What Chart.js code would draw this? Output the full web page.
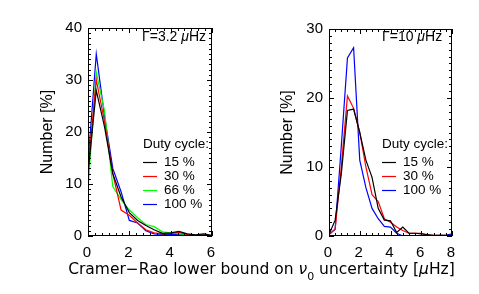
<!DOCTYPE html>
<html>
  <head>
    <title>Duty cycle histograms</title>
    <script src="https://cdn.jsdelivr.net/npm/chart.js"></script>
    <style>
      body { margin: 0; background: #fff; }
      #wrap { position: relative; width: 479px; height: 294px; overflow: hidden; }
      canvas { position: absolute; left: 0; top: 0; }
      #xtitle {
        position: absolute; left: 0; width: 523px; top: 260px;
        text-align: center; font: 15.5px "DejaVu Sans"; color: #000; white-space: nowrap;
      }
      #xtitle sub { font-size: 11px; vertical-align: -6px; }
    </style>
  </head>
  <body>
    <div id="wrap">
      <canvas id="left-chart" width="479" height="294"></canvas>
      <canvas id="right-chart" width="479" height="294"></canvas>
      <div id="xtitle">Cramer&minus;Rao lower bound on <i>&nu;</i><sub>0</sub> uncertainty [<i>&mu;</i>Hz]</div>
    </div>

    <script>
      // left panel, Gamma = 3.2 uHz
      const xLeft = [0, 0.4, 0.8, 1.2, 1.6, 2.0, 2.4, 2.8, 3.2, 3.6, 4.0, 4.4, 4.8, 5.2, 5.6, 6.0];
      const duty15Left = [12, 28, 21, 12, 7.5, 4.5, 3, 2, 1.2, 0.5, 0.6, 0.9, 0.4, 0.2, 0.4, 0.1];
      const duty30Left = [13, 30, 22, 12, 5, 4, 2.5, 1.2, 0.6, 0.4, 0.5, 0.7, 0.3, 0.1, 0.2, 0];
      const duty66Left = [9, 31.5, 24, 9.5, 7, 5, 3.5, 2.2, 1.8, 0.8, 0.6, 0.4, 0.3, 0.2, 0.1, 0];
      const duty100Left = [14, 35, 23, 13, 8.5, 3, 2.5, 1, 0.4, 0.3, 0.3, 0.3, 0.2, 0.1, 0.1, 0];

      // right panel, Gamma = 10 uHz
      const xRight = [0, 0.4, 0.8, 1.2, 1.6, 2.0, 2.4, 2.8, 3.2, 3.6, 4.0, 4.4, 4.8, 5.2, 5.6, 6.0, 6.4, 6.8, 7.2, 7.6, 8.0];
      const duty15Right = [0.2, 2.3, 9, 18.2, 18.4, 15, 11, 8.5, 4, 2.3, 2.2, 0.5, 1.3, 0.4, 0.4, 0.3, 0.2, 0.1, 0.1, 0.1, 0.1];
      const duty30Right = [0.2, 1, 10, 20.3, 18.5, 15, 10, 6, 5, 2.5, 2, 1.3, 0.8, 0.4, 0.4, 0.4, 0.1, 0.1, 0.1, 0, 0];
      const duty100Right = [0.2, 1, 13, 25.8, 27.3, 11, 7, 4, 2.5, 1.4, 1.3, 0.4, 0, 0, 0, 0, 0, 0, 0.1, 0.1, 0.3];

      const legendLabels = ["15 %", "30 %", "66 %", "100 %"];
      const colors = { "15 %": "#000000", "30 %": "#ff0000", "66 %": "#00ff00", "100 %": "#0000ff" };

      function pts(xs, ys) {
        return xs.map((x, i) => ({ x: x, y: ys[i] }));
      }

      // frame, inward ticks, y title, gamma text and legend
      const panelPlugin = {
        id: "panel",
        afterDraw(chart) {
          const o = chart.options.plugins.panel;
          const ctx = chart.ctx;
          const a = chart.chartArea;
          const xs = chart.scales.x, ys = chart.scales.y;
          ctx.save();
          ctx.strokeStyle = "#000";
          ctx.lineWidth = 1;
          ctx.strokeRect(a.left + 0.5, a.top + 0.5, a.right - a.left - 1, a.bottom - a.top - 1);

          ctx.beginPath();
          for (let v = xs.min; v <= xs.max + 1e-6; v += o.minorX) {
            const major = Math.abs(v / o.majorX - Math.round(v / o.majorX)) < 1e-3;
            const len = major ? 5 : 3;
            const p = Math.round(xs.getPixelForValue(v)) + 0.5;
            ctx.moveTo(p, a.bottom); ctx.lineTo(p, a.bottom - len);
            ctx.moveTo(p, a.top); ctx.lineTo(p, a.top + len);
          }
          for (let v = ys.min; v <= ys.max + 1e-6; v += o.minorY) {
            const major = Math.abs(v / o.majorY - Math.round(v / o.majorY)) < 1e-3;
            const len = major ? 5 : 3;
            const p = Math.round(ys.getPixelForValue(v)) + 0.5;
            ctx.moveTo(a.left, p); ctx.lineTo(a.left + len, p);
            ctx.moveTo(a.right, p); ctx.lineTo(a.right - len, p);
          }
          ctx.stroke();

          ctx.fillStyle = "#000";
          // y title
          ctx.save();
          ctx.translate(o.titleX, (a.top + a.bottom) / 2);
          ctx.rotate(-Math.PI / 2);
          ctx.font = "16px 'Liberation Sans'";
          ctx.textAlign = "center";
          ctx.textBaseline = "middle";
          ctx.fillText("Number [%]", 0, 0);
          ctx.restore();

          // gamma label
          ctx.font = "14px 'Liberation Sans'";
          ctx.textBaseline = "middle";
          ctx.textAlign = "left";
          let tx = o.gammaX;
          const gy = 37;
          const g1 = "\u0393=" + o.gamma + " ";
          ctx.fillText(g1, tx, gy);
          tx += ctx.measureText(g1).width;
          ctx.font = "italic 14px 'Liberation Sans'";
          ctx.fillText("\u03bc", tx, gy);
          tx += ctx.measureText("\u03bc").width;
          ctx.font = "14px 'Liberation Sans'";
          ctx.fillText("Hz", tx, gy);

          // legend
          ctx.font = "13.5px 'Liberation Sans'";
          ctx.fillText("Duty cycle:", o.legendX, 144);
          chart.data.datasets.forEach((ds, i) => {
            const y = 162 + i * 14;
            ctx.strokeStyle = ds.borderColor;
            ctx.lineWidth = 1.2;
            ctx.beginPath();
            ctx.moveTo(o.legendX, y + 0.5);
            ctx.lineTo(o.legendX + 14, y + 0.5);
            ctx.stroke();
            ctx.fillStyle = "#000";
            ctx.fillText(ds.label, o.legendX + 21, y);
          });
          ctx.restore();
        },
      };

      function makeChart(id, xs, series, opts) {
        const ctx = document.getElementById(id).getContext("2d");
        return new Chart(ctx, {
          type: "line",
          data: {
            datasets: series.map((s) => ({
              label: s.label,
              data: pts(xs, s.values),
              borderColor: colors[s.label],
              borderWidth: 1.2,
              pointRadius: 0,
              fill: false,
              tension: 0,
            })),
          },
          options: {
            responsive: false,
            animation: false,
            devicePixelRatio: 1,
            layout: { padding: opts.padding },
            plugins: {
              legend: { display: false },
              tooltip: { enabled: false },
              panel: opts.panel,
            },
            scales: {
              x: {
                type: "linear",
                min: 0,
                max: opts.xMax,
                grid: { display: false, drawTicks: false },
                border: { display: false },
                afterFit: (s) => { s.height = 30; },
                ticks: {
                  stepSize: opts.panel.majorX,
                  padding: 8,
                  labelOffset: -1,
                  color: "#000",
                  font: { family: "Liberation Sans", size: 15 },
                },
              },
              y: {
                min: 0,
                max: opts.yMax,
                grid: { display: false, drawTicks: false },
                border: { display: false },
                afterFit: (s) => { s.width = 40; },
                ticks: {
                  stepSize: 10,
                  padding: 6,
                  color: "#000",
                  font: { family: "Liberation Sans", size: 15 },
                },
              },
            },
          },
          plugins: [panelPlugin],
        });
      }

      makeChart("left-chart", xLeft, [
        { label: legendLabels[0], values: duty15Left },
        { label: legendLabels[1], values: duty30Left },
        { label: legendLabels[2], values: duty66Left },
        { label: legendLabels[3], values: duty100Left },
      ], {
        xMax: 6,
        yMax: 40,
        padding: { left: 48, right: 267, top: 28, bottom: 28 },
        panel: { gamma: "3.2", gammaX: 142, legendX: 143, titleX: 48,
                 majorX: 2, minorX: 1 / 3, majorY: 10, minorY: 1 },
      });

      makeChart("right-chart", xRight, [
        { label: legendLabels[0], values: duty15Right },
        { label: legendLabels[1], values: duty30Right },
        { label: legendLabels[3], values: duty100Right },
      ], {
        xMax: 8,
        yMax: 30,
        padding: { left: 289, right: 27, top: 29, bottom: 28 },
        panel: { gamma: "10", gammaX: 382, legendX: 382, titleX: 288,
                 majorX: 2, minorX: 0.4, majorY: 10, minorY: 1 },
      });
    </script>
  </body>
</html>
